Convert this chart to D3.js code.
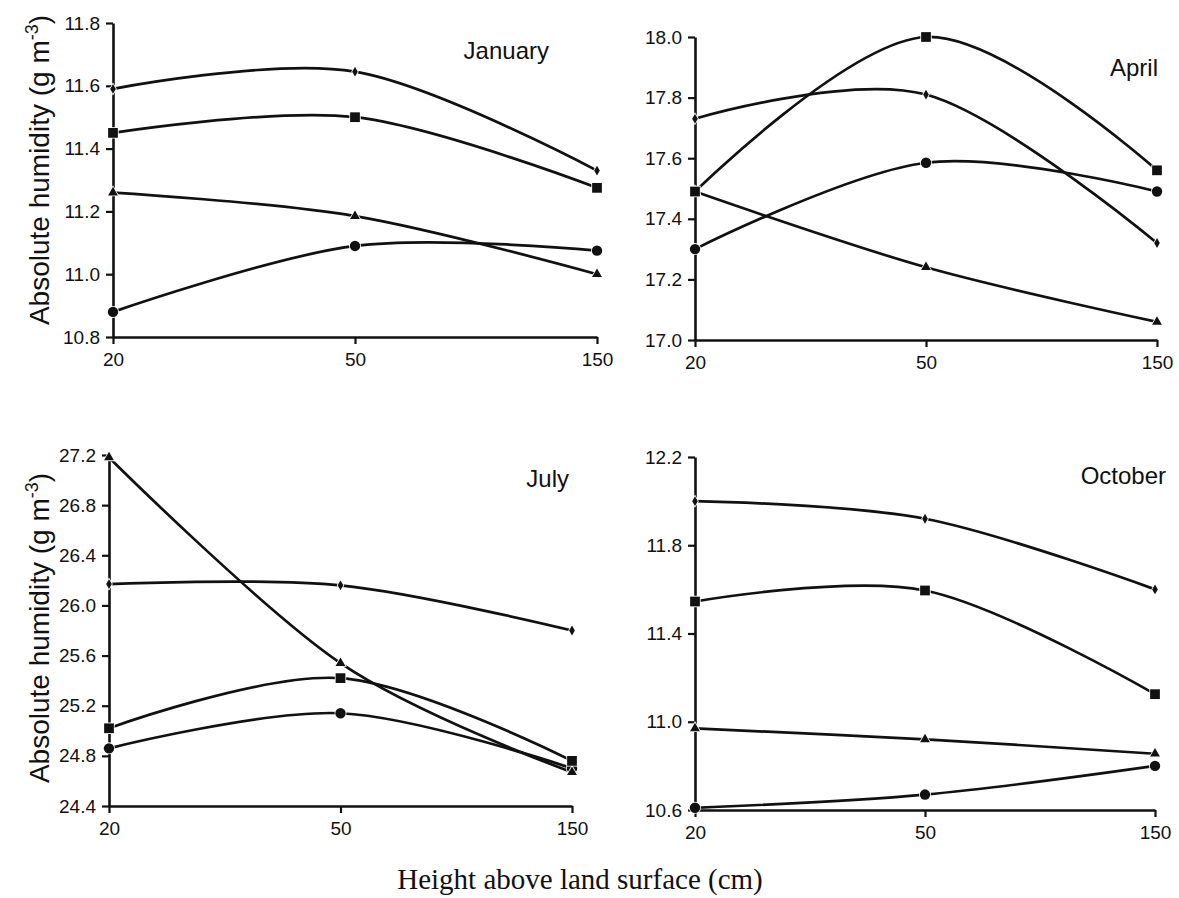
<!DOCTYPE html>
<html>
<head>
<meta charset="utf-8">
<script src="https://cdn.jsdelivr.net/npm/d3@7"></script>
<style>
  body { margin: 0; background: #fff; }
  text { fill: #111; }
</style>
</head>
<body>
<svg id="chart" width="1179" height="898"></svg>
<script>
// Measurement heights (cm), shown as evenly spaced categories
const heights = ["20", "50", "150"];

// Absolute humidity (g m-3) for the four series at each height
const janDiamond  = [11.59, 11.645, 11.33];
const janSquare   = [11.45, 11.50, 11.275];
const janTriangle = [11.26, 11.185, 11.00];
const janCircle   = [10.88, 11.09, 11.075];

const aprDiamond  = [17.73, 17.81, 17.32];
const aprSquare   = [17.49, 18.00, 17.56];
const aprTriangle = [17.49, 17.24, 17.06];
const aprCircle   = [17.30, 17.585, 17.49];

const julDiamond  = [26.17, 26.16, 25.80];
const julSquare   = [25.02, 25.42, 24.76];
const julTriangle = [27.18, 25.54, 24.67];
const julCircle   = [24.86, 25.14, 24.70];

const octDiamond  = [12.00, 11.92, 11.60];
const octSquare   = [11.545, 11.595, 11.125];
const octTriangle = [10.97, 10.92, 10.855];
const octCircle   = [10.61, 10.67, 10.80];

// Y tick labels per panel
const janTicks = [10.8, 11.0, 11.2, 11.4, 11.6, 11.8];
const aprTicks = [17.0, 17.2, 17.4, 17.6, 17.8, 18.0];
const julTicks = [24.4, 24.8, 25.2, 25.6, 26.0, 26.4, 26.8, 27.2];
const octTicks = [10.6, 11.0, 11.4, 11.8, 12.2];

const monthNames = ["January", "April", "July", "October"];
const yTitle = "Absolute humidity (g m";
const xTitle = "Height above land surface (cm)";

// Panel geometry (pixels)
const layout = [
  { x0: 113, x1: 597, top: 23,  bottom: 337, titleX: 549,  titleY: 59 },
  { x0: 695, x1: 1157, top: 37, bottom: 340, titleX: 1158, titleY: 76 },
  { x0: 109, x1: 572, top: 455, bottom: 806, titleX: 569,  titleY: 487 },
  { x0: 695, x1: 1155, top: 457, bottom: 810, titleX: 1166, titleY: 484 }
];

// Series drawn bottom to top: circle, triangle, square, diamond
const panelData = [
  { ticks: janTicks, series: [janCircle, janTriangle, janSquare, janDiamond] },
  { ticks: aprTicks, series: [aprCircle, aprTriangle, aprSquare, aprDiamond] },
  { ticks: julTicks, series: [julCircle, julTriangle, julSquare, julDiamond] },
  { ticks: octTicks, series: [octCircle, octTriangle, octSquare, octDiamond] }
];

const markers = [
  { type: d3.symbolCircle,   size: 85 },
  { type: d3.symbolTriangle, size: 42 },
  { type: d3.symbolSquare,   size: 95 },
  { type: d3.symbolDiamond,  size: 28 }
];

const svg = d3.select("#chart");
const sansFont = "Liberation Sans, Arial, sans-serif";

panelData.forEach((pd, i) => {
  const L = layout[i];
  const x = d3.scalePoint().domain(heights).range([L.x0, L.x1]);
  const y = d3.scaleLinear()
    .domain([d3.min(pd.ticks), d3.max(pd.ticks)])
    .range([L.bottom, L.top]);

  const g = svg.append("g");

  // Axes
  const yAxis = d3.axisLeft(y).tickValues(pd.ticks)
    .tickFormat(d3.format(".1f")).tickSizeInner(7).tickSizeOuter(0).tickPadding(6);
  const xAxis = d3.axisBottom(x).tickSizeInner(7).tickSizeOuter(0).tickPadding(9);

  const ya = g.append("g").attr("transform", `translate(${L.x0},0)`).call(yAxis);
  const xa = g.append("g").attr("transform", `translate(0,${L.bottom})`).call(xAxis);
  [ya, xa].forEach(a => {
    a.select(".domain").attr("stroke", "#111").attr("stroke-width", 2.6);
    a.selectAll(".tick line").attr("stroke", "#111").attr("stroke-width", 2.2);
    a.selectAll(".tick text")
      .attr("font-family", sansFont).attr("font-size", 19).attr("fill", "#111");
  });

  // Smoothed series lines
  const line = d3.line()
    .x((d, j) => x(heights[j]))
    .y(d => y(d))
    .curve(d3.curveCardinal.tension(0));

  pd.series.forEach(vals => {
    g.append("path")
      .attr("d", line(vals))
      .attr("fill", "none")
      .attr("stroke", "#111")
      .attr("stroke-width", 2.7)
      .attr("stroke-linejoin", "round");
  });

  // Markers with a white halo
  pd.series.forEach((vals, s) => {
    const sym = d3.symbol().type(markers[s].type).size(markers[s].size);
    g.selectAll(null)
      .data(vals)
      .join("path")
      .attr("d", sym)
      .attr("transform", (d, j) => `translate(${x(heights[j])},${y(d)})`)
      .attr("fill", "#111")
      .attr("stroke", "#fff")
      .attr("stroke-width", 1.6)
      .attr("paint-order", "stroke");
  });

  // Month label
  g.append("text")
    .attr("x", L.titleX).attr("y", L.titleY)
    .attr("text-anchor", "end")
    .attr("font-family", sansFont)
    .attr("font-size", 24)
    .text(monthNames[i]);
});

// Y-axis titles (one per row)
[170, 628].forEach(cy => {
  const t = svg.append("text")
    .attr("transform", `translate(49,${cy}) rotate(-90)`)
    .attr("text-anchor", "middle")
    .attr("font-family", sansFont)
    .attr("font-size", 28);
  t.append("tspan").text(yTitle);
  t.append("tspan").attr("dy", -11).attr("font-size", 18).text("-3");
  t.append("tspan").attr("dy", 11).text(")");
});

// Shared x-axis title
svg.append("text")
  .attr("x", 580).attr("y", 889)
  .attr("text-anchor", "middle")
  .attr("font-family", "Liberation Serif, Times New Roman, serif")
  .attr("font-size", 29)
  .text(xTitle);
</script>
</body>
</html>
